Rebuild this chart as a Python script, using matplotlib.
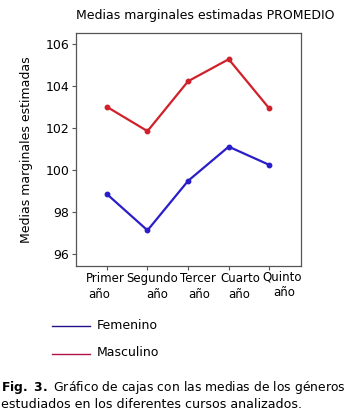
import matplotlib
matplotlib.use("Agg")
import matplotlib.pyplot as plt
from matplotlib.lines import Line2D
from matplotlib.transforms import ScaledTranslation, blended_transform_factory

categories = ["Primer", "Segundo", "Tercer", "Cuarto", "Quinto"]
second_line = ["año", "año", "año", "año", "año"]
femenino = [98.86, 97.13, 99.49, 101.12, 100.25]
masculino = [103.02, 101.86, 104.24, 105.29, 102.94]
yticks = [96, 98, 100, 102, 104, 106]

plt.rcParams['font.family'] = ['DejaVu Sans']
fig = plt.figure(figsize=(3.64, 4.18), dpi=100)
W, H = 364, 418
ax = fig.add_axes([76 / W, 1 - 266 / H, (301 - 76) / W, (266 - 33) / H])

x = list(range(1, len(categories) + 1))
ax.plot(x, masculino, color="#d0202a", lw=1.6, marker="o", ms=3.2)
ax.plot(x, femenino, color="#2a1ec8", lw=1.6, marker="o", ms=3.2)

ax.set_xlim(0.24, 5.78)
ax.set_ylim(95.43, 106.54)
ax.set_yticks(yticks)
ax.set_yticklabels([str(v) for v in yticks], fontsize=9)
ax.set_xticks(x)
ax.set_xticklabels([])
for sp in ax.spines.values():
    sp.set_color("#555555")
    sp.set_linewidth(0.9)
ax.tick_params(axis="both", direction="out", length=3, width=0.8, color="#555555", pad=2)
ax.set_ylabel("Medias marginales estimadas", fontsize=9)
ax.yaxis.set_label_coords(-0.19, 0.5)

# category labels (wrapped, offset as in the reference layout)
btr = blended_transform_factory(ax.transData, fig.transFigure)
off1 = [-1.7, 4.4, 9.7, 11.2, 12.7]
off2 = [-7.5, 9.5, 10.8, 10.5, 15.0]
dy1 = [0, 0, 0, 0, 1.6]
for i, (c, s) in enumerate(zip(categories, second_line)):
    t1 = btr + ScaledTranslation(off1[i] / 100, 0, fig.dpi_scale_trans)
    t2 = btr + ScaledTranslation(off2[i] / 100, 0, fig.dpi_scale_trans)
    ax.text(x[i], 1 - (278.3 - dy1[i]) / H, c, transform=t1, ha="center", va="center", fontsize=8.5)
    ax.text(x[i], 1 - (294.3 - dy1[i]) / H, s, transform=t2, ha="center", va="center", fontsize=8.5)

fig.text(205 / W, 1 - 15 / H, "Medias marginales estimadas PROMEDIO", ha="center", va="center", fontsize=9)

# legend
fig.add_artist(Line2D([52 / W, 90 / W], [1 - 326 / H, 1 - 326 / H], color="#20108a", lw=1.0))
fig.add_artist(Line2D([52 / W, 90 / W], [1 - 354 / H, 1 - 354 / H], color="#b0104a", lw=1.0))
fig.text(97 / W, 1 - 325.5 / H, "Femenino", ha="left", va="center", fontsize=9)
fig.text(97 / W, 1 - 353 / H, "Masculino", ha="left", va="center", fontsize=9)

# caption
fig.text(1 / W, 1 - 387 / H, r"$\bf{Fig.\ 3.}$ Gráfico de cajas con las medias de los géneros",
         ha="left", va="center", fontsize=8.9)
fig.text(1 / W, 1 - 405 / H, "estudiados en los diferentes cursos analizados.",
         ha="left", va="center", fontsize=9.1)

fig.savefig("out.png", dpi=100)
